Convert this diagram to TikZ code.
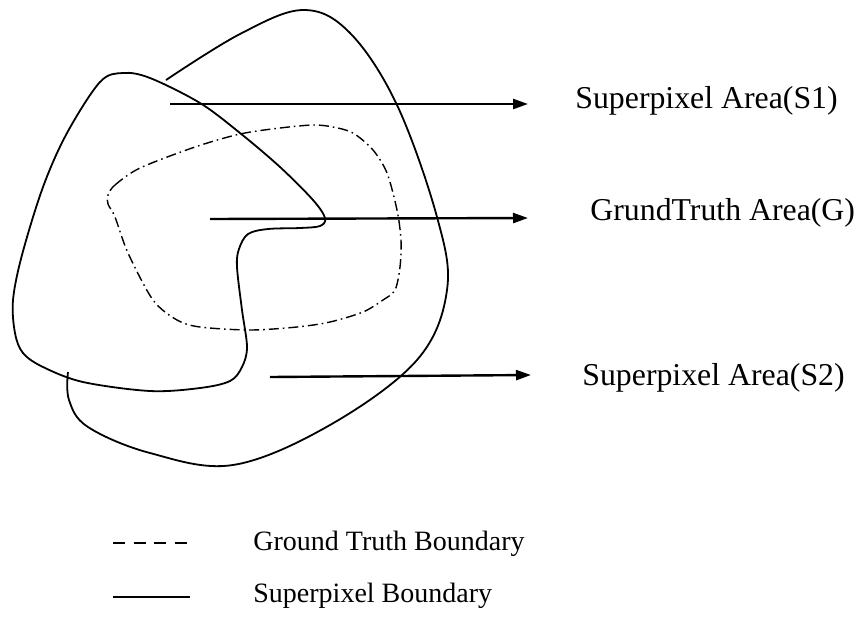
\documentclass[tikz,border=0pt]{standalone}
\usepackage{fontspec}
\setmainfont{Liberation Serif}
\usetikzlibrary{arrows.meta}
\begin{document}
\begin{tikzpicture}[x=0.5pt,y=-0.5pt,
  spbound/.style={line width=0.9pt},
  gtbound/.style={line width=0.7pt,dash pattern=on 5pt off 2pt on 0.8pt off 2pt},
  pointer/.style={line width=1.2pt,-{Triangle[length=7.5pt,width=5pt]}},
  arealabel/.style={anchor=base west,inner sep=0pt,font=\fontsize{15.9}{19}\selectfont},
  keylabel/.style={anchor=base west,inner sep=0pt,font=\fontsize{14}{17}\selectfont}]
\useasboundingbox (0,0) rectangle (862,617);

% superpixel S1 (closed region with the notch)
\draw[spbound] plot[smooth cycle,tension=0.55] coordinates {
  (123,73) (150,78) (200,103) (240,133) (280,167) (313,200) (325,218)
  (320,226) (300,228) (268,229) (248,234) (239,249) (237,267) (242,310)
  (247,347) (242,367) (230,381) (200,388) (150,391) (83,382) (43,367)
  (23,353) (15,333) (13,300) (22,255) (43,187) (67,133) (100,82)};

% superpixel S2 (outer boundary, closing on S1)
\draw[spbound] plot[smooth,tension=0.6] coordinates {
  (166,80) (240,34) (303,10) (350,33) (397,105) (437,217) (447,290)
  (417,360) (330,425) (233,465) (150,453) (88,427) (69,400) (68,372)};

% ground truth region
\draw[gtbound] plot[smooth cycle,tension=0.5] coordinates {
  (108,195) (115,185) (140,168) (195,147) (240,134) (280,128) (313,125)
  (333,127) (353,133) (373,150) (387,173) (397,210) (401,240) (400,267)
  (395,290) (383,300) (363,312) (330,322) (297,327) (250,330) (200,327)
  (177,320) (153,300) (128,253) (115,217) (108,204)};

% pointers and labels
\coordinate (p1s) at (170,104);
\coordinate (p1e) at (528,104);
\coordinate (p2s) at (210,219);
\coordinate (p2e) at (528,218);
\coordinate (p3s) at (270,377);
\coordinate (p3e) at (531,375);
\draw[pointer] (p1s) -- (p1e);
\draw[pointer] (p2s) -- (p2e);
\draw[pointer] (p3s) -- (p3e);
\node[arealabel] (s1) at (575,108) {Superpixel Area(S1)};
\node[arealabel] (g) at (590,220) {GrundTruth Area(G)};
\node[arealabel] (s2) at (582,385) {Superpixel Area(S2)};

% legend
\coordinate (k1a) at (113,543);
\coordinate (k1b) at (190,543);
\coordinate (k2a) at (113,597);
\coordinate (k2b) at (190,597);
\draw[line width=0.6pt,dash pattern=on 6pt off 4.3pt] (k1a) -- (k1b);
\draw[line width=0.7pt] (k2a) -- (k2b);
\node[keylabel] (kgt) at (253,550) {Ground Truth Boundary};
\node[keylabel] (ksp) at (253,602) {Superpixel Boundary};
\end{tikzpicture}
\end{document}
